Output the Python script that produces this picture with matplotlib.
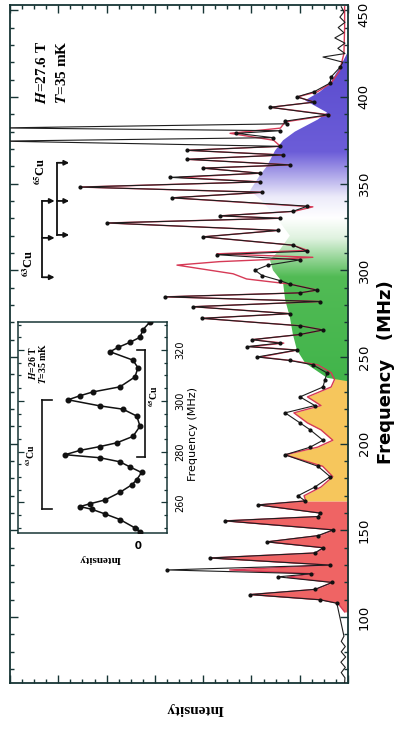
import numpy as np
import matplotlib
matplotlib.use('Agg')
import matplotlib.pyplot as plt
from matplotlib.patches import Polygon
from matplotlib.ticker import MultipleLocator, FixedLocator
from matplotlib.colors import to_rgb
from matplotlib.transforms import ScaledTranslation

plt.rcParams['mathtext.fontset'] = 'stix'

# ---------------- data (frequency in MHz, intensity in arbitrary units 0-100) -------------
black_freq = [62, 65, 68, 71, 74, 77, 80, 83, 86, 89, 108, 110, 113, 116, 120, 123.2, 125, 127.2,
              130, 134.1, 137, 140, 143.4, 147, 150.3, 155.5, 158, 160, 164.7, 167, 170, 175, 181,
              187, 193.6, 198, 202, 208, 212, 217.8, 222, 227, 232.7, 237, 240.8, 245.5, 248, 250,
              254, 256, 258, 260, 263, 265.6, 268, 272.3, 275, 279, 282, 284.7, 287, 288.6, 292,
              294, 297, 300, 303, 306, 309, 311, 314.5, 319.3, 323, 327.3, 330, 331.4, 334, 337,
              341.8, 345, 348, 351, 353.6, 356, 358.9, 360.8, 364, 366.5, 369.2, 371.5, 374.5,
              376.5, 379, 380.5, 382.1, 384.5, 386, 389.6, 394, 397, 400, 403, 408, 411.5, 417,
              420, 423, 425, 428, 431, 434, 437, 440, 443, 446, 449, 452]
black_int = [1.0, 0.9, 2.0, 0.8, 2.1, 0.7, 2.0, 0.8, 2.0, 1.2, 3.3, 8.3, 29.0, 9.8, 4.7, 20.7, 11.0, 53.6,
             5.3, 40.8, 9.8, 7.4, 24.0, 8.9, 4.4, 36.4, 8.9, 8.3, 26.6, 12.7, 14.8, 9.8, 5.3,
             8.9, 18.6, 11.2, 7.4, 11.2, 14.2, 18.6, 9.8, 14.2, 7.4, 6.8, 6.2, 10.4, 17.2, 26.9,
             15.1, 29.9, 20.1, 28.4, 14.2, 7.4, 14.2, 43.2, 17.2, 45.9, 8.3, 54.1, 14.2, 9.2, 17.2,
             20.0, 25.4, 27.5, 23.7, 14.2, 38.8, 12.1, 16.3, 42.9, 20.7, 71.3, 20.0, 37.9, 16.3, 12.0,
             52.1, 25.4, 79.3, 26.0, 52.7, 26.0, 42.9, 17.2, 47.6, 19.2, 47.6, 20.1, 103.0,
             22.2, 33.0, 20.0, 103.0, 18.0, 18.6, 6.0, 23.1, 10.0, 15.1, 10.0, 5.3, 5.0, 2.4,
             1.5, 7.4, 0.9, 3.0, 0.9, 3.9, 1.2, 2.9, 0.9, 2.4, 1.2, 2.0]

sim_freq = [103, 108, 110, 113, 116, 120, 123, 125, 127.2, 130, 134.1, 137, 140, 143.4, 147, 150.3,
            155.5, 158, 160, 164.7, 167, 170, 175, 181, 187, 193.6, 198, 202, 208, 212, 217.8, 222,
            227, 232.7, 237, 241, 245.5, 248, 250, 254, 256, 258, 260, 263, 265.6, 268, 272.3, 275,
            279, 282, 284.7, 287, 288.6, 292, 295, 298, 301, 303, 305, 306.5, 307.5, 309.5, 311.5,
            314.5, 319.3, 323, 327.3, 330, 331.4, 334, 336.6, 341.8, 345, 348, 351, 353.6, 356,
            358.9, 360.8, 364, 366.5, 369.2, 371.5, 375, 379, 382, 385.6, 389.6, 394, 397, 400, 403,
            408, 415, 425, 440, 452]
sim_int = [1.0, 3.0, 8.0, 29.0, 9.5, 4.4, 18.0, 10.0, 35.0, 5.0, 40.8, 9.5, 7.0, 24.0, 8.5, 4.0,
           36.4, 8.5, 8.0, 26.6, 12.5, 13.0, 8.0, 4.5, 7.5, 18.6, 9.0, 4.5, 8.0, 12.0, 16.0, 8.0,
           12.0, 5.0, 4.0, 5.0, 9.0, 17.0, 26.0, 15.0, 29.0, 19.0, 28.4, 14.0, 7.4, 14.0, 43.2, 17.0,
           45.9, 8.0, 54.0, 14.0, 9.0, 17.0, 30.0, 34.0, 44.0, 50.6, 38.0, 20.0, 10.4, 38.8, 12.0,
           16.3, 42.9, 20.7, 71.3, 20.0, 37.9, 16.0, 10.4, 52.1, 25.0, 79.3, 26.0, 50.0, 26.0,
           42.9, 17.0, 47.6, 19.0, 47.6, 20.0, 22.0, 34.9, 20.0, 18.6, 5.3, 23.0, 10.0, 15.0, 9.0,
           5.0, 2.5, 1.2, 1.0, 1.0]

# broad background envelope (green / blue shaded region)
env_freq = [236, 238, 246.6, 254, 263, 273, 283, 292.7, 300, 306, 312, 320, 330, 340, 346, 355,
            360, 369, 375, 380, 387, 391, 398, 403, 408, 417, 425, 430]
env_int = [0.0, 6.2, 12.7, 15.1, 16.3, 17.2, 18.6, 19.2, 22.2, 23.1, 20.1, 17.2, 21.0, 25.4, 29.0,
           26.0, 24.0, 21.6, 19.2, 15.7, 8.9, 6.2, 12.7, 8.3, 5.3, 2.4, 0.3, 0.0]

# Cu line markers (frequencies)
cu65_lines = [362, 340, 320.4]
cu63_lines = [340, 318.7, 296]

# inset data (H = 26 T)
ins_freq = [248.2, 250, 253.3, 255.5, 257.3, 258.4, 259.5, 261, 264, 267, 269, 271.8, 274, 276,
            277.6, 278.8, 280.5, 282, 283.5, 286, 290, 294, 296.7, 298, 300.4, 302, 303.5, 305.5,
            309.4, 313, 316, 319.3, 321, 323, 325, 328, 331]
ins_int = [-0.017, 0.025, 0.15, 0.275, 0.383, 0.483, 0.40, 0.275, 0.15, 0.05, 0.01, -0.03, 0.067,
           0.15, 0.317, 0.608, 0.483, 0.317, 0.175, 0.042, -0.017, 0.01, 0.125, 0.317, 0.583,
           0.483, 0.375, 0.15, 0.025, 0.0, 0.042, 0.233, 0.167, 0.067, -0.017, -0.042, -0.1]
ins63 = [257.3, 278.8, 300.4]
ins65 = [278.0, 299.8, 320.0]

# ---------------- figure -------------------------------------------------------------------
W, H = 398, 730
fig = plt.figure(figsize=(W / 100, H / 100), dpi=100)
fig.patch.set_facecolor('white')

def fx(px):
    return px / W

def fy(py):
    return 1 - py / H

SP = '#173535'
ax = fig.add_axes([fx(10), fy(683), fx(348 - 10), (683 - 5) / H])

bf = np.array(black_freq); bi = np.array(black_int)
sf = np.array(sim_freq); si = np.array(sim_int)

# coloured fills under the simulated curve
red_mask = sf <= 167
yel_mask = (sf >= 167) & (sf <= 241)
ax.fill_betweenx(sf, 0, si, where=red_mask, color='#ef6464', lw=0, zorder=1)
ax.fill_betweenx(sf, 0, si, where=yel_mask, color='#f6c65c', lw=0, zorder=1)

# gradient envelope green -> white -> purple
verts = list(zip(env_int, env_freq))
poly = Polygon(verts, closed=True, facecolor='none', edgecolor='none')
ax.add_patch(poly)
fgrid = np.linspace(232, 434, 500)
stops_f = [232, 296, 318, 330, 342, 368, 434]
stops_c = ['#40b44a', '#52bb55', '#dff2df', '#ffffff', '#ecebfa', '#6c5dd8', '#5648cc']
rgb = np.array([to_rgb(c) for c in stops_c])
img = np.stack([np.interp(fgrid, stops_f, rgb[:, k]) for k in range(3)], axis=-1)
img = np.repeat(img[:, None, :], 2, axis=1)
im = ax.imshow(img, extent=(0, 40, 232, 434), origin='lower', aspect='auto',
               interpolation='bilinear', zorder=1)
im.set_clip_path(poly)
ax.set_xlim(100, 0)
ax.set_ylim(62, 453)

# spectra
ax.plot(si, sf, color='#d63a56', lw=1.0, zorder=3)
ax.plot(bi, bf, color='#1e1e1e', lw=0.8, zorder=4)
ax.plot(bi[10:-12], bf[10:-12], ls='none', marker='o', ms=2.0, color='#111111', zorder=5)

# ticks
ax.yaxis.set_major_locator(MultipleLocator(50))
ax.yaxis.set_minor_locator(MultipleLocator(10))
ax.xaxis.set_major_locator(MultipleLocator(100 / 7))
ax.xaxis.set_minor_locator(MultipleLocator(100 / 28))
ax.tick_params(axis='both', which='both', direction='in', color=SP, width=1.0,
               top=True, bottom=True, left=True, right=True)
ax.tick_params(axis='both', which='major', length=6)
ax.tick_params(axis='both', which='minor', length=3)
ax.tick_params(axis='x', labelbottom=False)
ax.tick_params(axis='y', labelleft=False, labelright=True, pad=7, labelsize=9.5)
fig.canvas.draw()
ylabs = ax.get_yticklabels()
for lab in ylabs:
    lab.set_rotation(90)
    lab.set_va('center')
    lab.set_ha('left')
    lab.set_family(['Liberation Sans Narrow', 'DejaVu Sans'])
# keep the topmost label inside the canvas
for lab, loc in zip(ylabs, ax.get_yticks()):
    if loc == 450:
        lab.set_transform(lab.get_transform() + ScaledTranslation(0, -3 / 72, fig.dpi_scale_trans))
for s in ax.spines.values():
    s.set_color(SP)
    s.set_linewidth(1.3)

# Cu markers in main panel
ak = dict(arrowstyle='-|>', color='#111111', lw=1.3, mutation_scale=7, shrinkA=0, shrinkB=0)
ax.plot([86.1, 86.1], [min(cu65_lines), max(cu65_lines)], color='#111111', lw=1.3, zorder=6)
for f in cu65_lines:
    ax.annotate('', xy=(82.5, f), xytext=(86.1, f), arrowprops=ak, zorder=6)
ax.plot([90.5, 90.5], [min(cu63_lines), max(cu63_lines)], color='#111111', lw=1.3, zorder=6)
for f in cu63_lines:
    ax.annotate('', xy=(86.8, f), xytext=(90.5, f), arrowprops=ak, zorder=6)
serif = ['Liberation Serif', 'DejaVu Serif']
ax.text(91.0, 357, r'$^{\mathbf{65}}$Cu', rotation=90, ha='center', va='center',
        fontsize=9, fontweight='bold', family=serif, zorder=6)
ax.text(94.6, 304, r'$^{\mathbf{63}}$Cu', rotation=90, ha='center', va='center',
        fontsize=9, fontweight='bold', family=serif, zorder=6)

fig.text(fx(42), fy(72), r'$\mathbfit{H}$=27.6 T', rotation=90, ha='center', va='center',
         fontsize=11, fontweight='bold', family=serif)
fig.text(fx(62), fy(72), r'$\mathbfit{T}$=35 mK', rotation=90, ha='center', va='center',
         fontsize=11, fontweight='bold', family=serif)

fig.text(fx(386), fy(372), 'Frequency   (MHz)', rotation=90, ha='center', va='center',
         fontsize=13, fontweight='bold', family=['Liberation Sans Narrow', 'DejaVu Sans'])
fig.text(fx(195), fy(708), 'Intensity', rotation=180, ha='center', va='center',
         fontsize=11, fontweight='bold', family=serif)

# ---------------- inset ----------------------------------------------------------------------
axi = fig.add_axes([fx(18), fy(533), fx(167 - 18), (533 - 322) / H])
axi.set_facecolor('white')
axi.set_ylim(248, 331)
axi.set_xlim(1.0, -0.242)
axi.plot(ins_int, ins_freq, color='#111111', lw=1.1, marker='o', ms=3.3, zorder=3)
axi.yaxis.set_major_locator(MultipleLocator(20))
axi.yaxis.set_minor_locator(MultipleLocator(5))
axi.xaxis.set_major_locator(FixedLocator([0.0]))
axi.tick_params(axis='both', which='both', direction='in', color=SP, width=0.9,
                left=True, right=True, top=False, bottom=True)
axi.tick_params(axis='both', which='major', length=4)
axi.tick_params(axis='both', which='minor', length=2.5)
axi.tick_params(axis='y', labelleft=False, labelright=True, pad=6, labelsize=7)
axi.tick_params(axis='x', labelsize=7.5, pad=3)
for lab in axi.get_yticklabels():
    lab.set_rotation(90)
    lab.set_va('center')
    lab.set_ha('left')
    lab.set_family(['Liberation Sans Narrow', 'DejaVu Sans'])
for lab in axi.get_xticklabels():
    lab.set_rotation(180)
    lab.set_fontweight('bold')
for s in axi.spines.values():
    s.set_color(SP)
    s.set_linewidth(1.1)

bk = dict(color='#111111', lw=1.2)
axi.plot([0.8, 0.8], [min(ins63), max(ins63)], **bk)
for f in (min(ins63), max(ins63)):
    axi.plot([0.8, 0.72], [f, f], **bk)
axi.plot([-0.058, -0.058], [min(ins65), max(ins65)], **bk)
for f in (min(ins65), max(ins65)):
    axi.plot([-0.058, 0.01], [f, f], **bk)
axi.text(0.9, ins63[1], r'$^{\mathbf{63}}$Cu', rotation=90, ha='center', va='center',
         fontsize=7, fontweight='bold', family=serif)
axi.text(-0.125, ins65[1] + 2, r'$^{\mathbf{65}}$Cu', rotation=90, ha='center', va='center',
         fontsize=7, fontweight='bold', family=serif, clip_on=False)
fig.text(fx(32), fy(363), r'$\mathbfit{H}$=26 T', rotation=90, ha='center', va='center',
         fontsize=7, fontweight='bold', family=serif)
fig.text(fx(43), fy(363), r'$\mathbfit{T}$=35 mK', rotation=90, ha='center', va='center',
         fontsize=7, fontweight='bold', family=serif)
fig.text(fx(193), fy(434), 'Frequency (MHz)', rotation=90, ha='center', va='center',
         fontsize=8, family=['Liberation Sans Narrow', 'DejaVu Sans'])
fig.text(fx(100), fy(558), 'Intensity', rotation=180, ha='center', va='center',
         fontsize=8, fontweight='bold', family=serif)

fig.savefig('out.png', dpi=100)
